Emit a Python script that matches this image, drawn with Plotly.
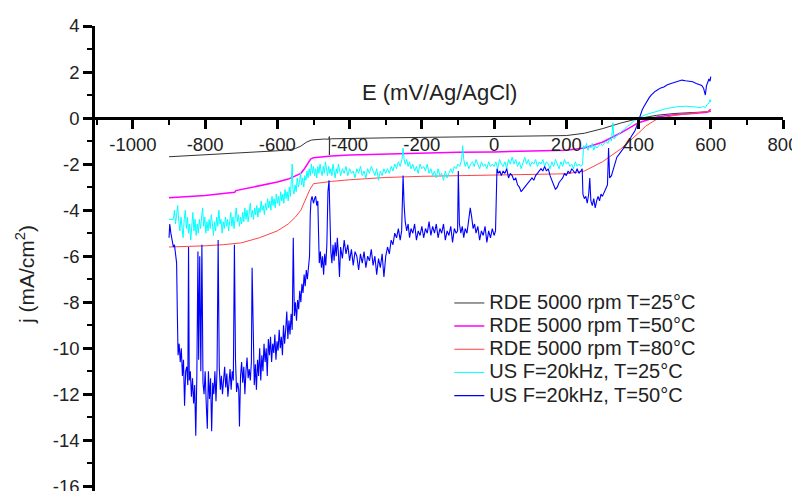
import plotly.graph_objects as go

# ---------------- data ----------------
rde25_E = [-900, -850, -800, -750, -700, -650, -600, -570, -550, -535, -520, -505, -490, -470,
           -458, -456, -456, -455, -452, -400, -300, -200, -100, 0, 100, 150, 200, 250, 300,
           350, 400, 450, 500, 550, 600]
rde25_j = [-1.68, -1.64, -1.6, -1.56, -1.52, -1.47, -1.42, -1.38, -1.32, -1.22, -1.05, -0.95, -0.92, -0.91,
           -0.92, -0.8, -1.6, -0.92, -0.9, -0.88, -0.86, -0.84, -0.82, -0.8, -0.79, -0.78, -0.76, -0.66, -0.46,
           -0.22, -0.02, 0.12, 0.2, 0.24, 0.28]

rde50_E = [-900, -850, -800, -750, -718, -715, -700, -650, -600, -570, -550, -535, -525, -515, -508,
           -500, -480, -450, -400, -300, -200, -100, 0, 100, 200, 250, 300, 350, 400, 450, 500,
           550, 590, 600]
rde50_j = [-3.46, -3.42, -3.36, -3.28, -3.22, -3.15, -3.1, -2.95, -2.78, -2.65, -2.52, -2.4, -2.2, -1.95, -1.78,
           -1.72, -1.68, -1.65, -1.6, -1.55, -1.5, -1.48, -1.47, -1.45, -1.4, -1.3, -1.05, -0.65, -0.2, 0.05, 0.15,
           0.2, 0.25, 0.38]

rde80_E = [-900, -850, -800, -750, -700, -650, -600, -570, -550, -535, -520, -510, -500, -480, -450,
           -400, -350, -300, -200, -100, 0, 100, 200, 250, 300, 350, 380, 400, 420, 450, 500, 550, 600]
rde80_j = [-5.6, -5.58, -5.55, -5.5, -5.42, -5.2, -4.9, -4.6, -4.3, -4.0, -3.5, -3.1, -2.85, -2.8, -2.75,
           -2.68, -2.62, -2.58, -2.53, -2.5, -2.47, -2.47, -2.42, -2.3, -1.9, -1.35, -0.95, -0.65, -0.35, -0.05,
           0.12, 0.2, 0.3]

us25_E = [
    -900, -888, -885, -882, -879, -876, -873, -870, -867, -864,
    -861, -858, -855, -852, -849, -846, -843, -840, -837, -834,
    -831, -828, -825, -822, -819, -816, -813, -810, -807, -804,
    -801, -798, -795, -792, -789, -786, -783, -780, -777, -774,
    -771, -768, -765, -762, -759, -756, -753, -750, -747, -744,
    -741, -738, -735, -732, -729, -726, -723, -720, -717, -714,
    -711, -708, -705, -702, -699, -696, -693, -690, -687, -684,
    -681, -678, -675, -672, -669, -666, -663, -660, -657, -654,
    -651, -648, -645, -642, -639, -636, -633, -630, -627, -624,
    -621, -618, -615, -612, -609, -606, -603, -600, -597, -594,
    -591, -588, -585, -582, -579, -576, -573, -570, -567, -564,
    -561, -559, -557, -554, -551, -548, -545, -542, -539, -536,
    -533, -530, -527, -524, -521, -518, -515, -512, -509, -506,
    -503, -500, -497, -494, -491, -488, -485, -482, -479, -476,
    -473, -470, -467, -464, -461, -458, -455, -452, -449, -446,
    -443, -440, -437, -434, -431, -428, -425, -420, -415, -410,
    -405, -400, -395, -390, -385, -380, -375, -370, -365, -360,
    -355, -350, -345, -340, -335, -330, -325, -320, -315, -310,
    -305, -300, -295, -290, -285, -280, -275, -270, -265, -260,
    -255, -252, -249, -246, -242, -238, -234, -230, -225, -220,
    -215, -210, -205, -200, -195, -190, -185, -180, -175, -170,
    -165, -160, -155, -150, -145, -140, -135, -130, -125, -120,
    -115, -110, -105, -100, -95, -90, -87, -84, -80, -75,
    -70, -65, -60, -55, -50, -45, -40, -35, -30, -25,
    -20, -15, -10, -5, 0, 5, 10, 15, 20, 25,
    30, 35, 40, 45, 50, 55, 60, 65, 70, 75,
    80, 85, 90, 95, 100, 105, 110, 115, 120, 125,
    130, 135, 140, 145, 150, 155, 160, 165, 170, 175,
    180, 185, 190, 195, 200, 205, 210, 215, 220, 225,
    230, 235, 240, 245, 248, 252, 256, 260, 264, 268,
    272, 276, 280, 285, 290, 295, 300, 305, 310, 315,
    320, 325, 329, 332, 336, 340, 345, 350, 355, 360,
    365, 370, 375, 380, 385, 390, 395, 400, 410, 420,
    430, 440, 450, 460, 470, 480, 490, 500, 510, 520,
    530, 540, 550, 560, 570, 580, 585, 590, 595, 598,
    600]
us25_j = [
    -4.4, -4.4, -4.0, -4.6, -4.2, -3.8, -4.5, -4.9, -4.3, -4.7,
    -5.2, -4.4, -4.0, -4.8, -4.3, -5.0, -4.6, -5.3, -4.5, -4.1,
    -4.9, -4.4, -5.1, -4.6, -5.0, -4.4, -4.8, -4.2, -3.9, -4.7,
    -4.3, -5.0, -4.5, -4.9, -4.4, -4.8, -4.2, -4.6, -5.1, -4.5,
    -4.9, -4.3, -4.7, -4.0, -4.6, -4.4, -5.0, -4.5, -4.8, -4.3,
    -4.7, -4.4, -4.9, -4.5, -4.1, -4.7, -4.3, -4.8, -4.4, -3.9,
    -4.5, -4.2, -4.7, -4.3, -4.6, -4.1, -4.5, -3.9, -4.4, -4.0,
    -4.5, -4.2, -3.7, -4.3, -4.0, -4.4, -3.9, -4.2, -3.8, -4.3,
    -3.9, -4.1, -3.6, -4.0, -3.8, -4.2, -3.7, -4.0, -3.5, -3.9,
    -3.6, -4.0, -3.4, -3.8, -3.5, -3.9, -3.3, -3.7, -3.4, -3.8,
    -3.2, -3.6, -3.3, -3.7, -3.1, -3.5, -3.2, -3.6, -3.0, -3.4,
    -2.5, -2.0, -3.1, -3.3, -2.9, -3.2, -2.6, -3.0, -2.8, -2.4,
    -2.9, -2.6, -3.0, -2.5, -2.7, -2.3, -2.6, -2.2, -2.5, -2.0,
    -2.4, -2.1, -2.5, -2.2, -2.6, -2.1, -2.4, -2.0, -2.3, -2.5,
    -2.1, -2.4, -1.9, -2.3, -2.5, -2.1, -2.4, -2.2, -2.5, -2.0,
    -2.3, -2.6, -2.2, -2.4, -2.0, -2.3, -2.5, -2.2, -2.4, -2.1,
    -2.5, -2.2, -2.4, -2.3, -2.6, -2.2, -2.4, -2.1, -2.5, -2.3,
    -2.6, -2.2, -2.4, -2.1, -2.3, -2.5, -2.2, -2.7, -2.3, -2.5,
    -2.2, -2.4, -2.2, -2.4, -2.1, -2.3, -2.0, -2.2, -1.9, -2.1,
    -1.8, -1.3, -1.8, -2.0, -1.8, -2.1, -1.9, -2.2, -2.0, -2.3,
    -2.1, -2.4, -2.0, -2.2, -2.1, -2.3, -2.0, -2.4, -2.2, -2.5,
    -2.3, -2.6, -2.2, -2.5, -2.4, -2.7, -2.3, -2.6, -2.4, -2.2,
    -2.4, -2.1, -2.2, -2.0, -2.1, -1.8, -1.2, -1.8, -2.1, -1.9,
    -2.2, -2.0, -1.9, -2.1, -1.8, -2.0, -2.2, -1.9, -2.1, -2.0,
    -2.2, -1.9, -2.1, -2.0, -2.1, -1.9, -2.2, -1.8, -2.0, -2.1,
    -1.9, -2.2, -1.8, -2.0, -1.7, -2.0, -1.8, -2.1, -1.9, -2.2,
    -1.9, -1.7, -2.0, -1.8, -2.1, -1.9, -2.0, -1.8, -2.1, -1.9,
    -2.0, -1.8, -2.1, -1.9, -2.0, -2.2, -1.9, -2.1, -1.8, -2.0,
    -2.2, -1.9, -2.1, -1.8, -2.0, -1.9, -2.1, -2.0, -2.2, -1.9,
    -2.1, -2.0, -2.1, -2.0, -1.2, -1.3, -1.1, -1.4, -1.2, -1.3,
    -1.1, -1.4, -1.2, -1.3, -1.2, -1.1, -1.2, -1.1, -1.0, -1.1,
    -0.9, -1.0, -0.2, -0.9, -0.8, -0.75, -0.7, -0.6, -0.55, -0.5,
    -0.4, -0.35, -0.3, -0.2, -0.15, -0.1, -0.05, 0.0, 0.08, 0.15,
    0.2, 0.26, 0.3, 0.35, 0.38, 0.42, 0.45, 0.48, 0.5, 0.5,
    0.52, 0.5, 0.5, 0.48, 0.45, 0.5, 0.45, 0.6, 0.65, 0.8,
    0.7]

us50_E = [
    -900, -898, -895, -892, -888, -885, -882, -879, -877, -875,
    -872, -869, -866, -863, -860, -857, -854, -851, -848, -846,
    -844, -841, -838, -835, -832, -829, -826, -823, -820, -818,
    -815, -812, -809, -806, -803, -800, -797, -794, -791, -788,
    -785, -782, -779, -776, -773, -770, -767, -764, -761, -758,
    -755, -752, -749, -746, -743, -740, -737, -734, -731, -728,
    -725, -722, -719, -716, -713, -710, -707, -705, -702, -699,
    -696, -693, -690, -687, -684, -681, -678, -675, -672, -670,
    -667, -664, -661, -658, -655, -652, -649, -646, -643, -640,
    -637, -634, -631, -628, -625, -622, -619, -616, -613, -610,
    -607, -604, -601, -598, -595, -592, -589, -586, -583, -580,
    -577, -574, -571, -568, -565, -562, -559, -556, -553, -550,
    -547, -544, -541, -538, -535, -532, -529, -526, -523, -520,
    -517, -514, -511, -509, -507, -504, -500, -497, -494, -491,
    -488, -486, -484, -481, -478, -475, -472, -469, -466, -463,
    -460, -457, -455, -452, -449, -446, -443, -440, -437, -434,
    -431, -428, -425, -420, -415, -410, -405, -400, -395, -390,
    -385, -380, -375, -370, -365, -360, -355, -350, -345, -340,
    -335, -330, -325, -320, -315, -310, -305, -300, -295, -290,
    -285, -280, -275, -270, -265, -260, -256, -252, -249, -246,
    -242, -238, -234, -230, -225, -220, -215, -210, -205, -200,
    -195, -190, -185, -180, -175, -170, -165, -160, -155, -150,
    -145, -140, -135, -130, -125, -120, -115, -110, -105, -101,
    -99, -96, -92, -88, -84, -80, -75, -70, -66, -62,
    -58, -54, -50, -45, -40, -35, -30, -25, -20, -15,
    -10, -5, 0, 4, 6, 8, 12, 16, 20, 25,
    30, 35, 40, 45, 50, 55, 60, 65, 70, 75,
    80, 85, 90, 95, 100, 105, 110, 115, 120, 125,
    130, 135, 140, 145, 150, 155, 160, 165, 170, 175,
    180, 185, 190, 195, 200, 205, 210, 215, 220, 225,
    230, 235, 240, 244, 246, 250, 254, 258, 262, 265,
    268, 272, 276, 280, 284, 288, 292, 296, 300, 305,
    310, 314, 317, 320, 325, 330, 335, 340, 345, 350,
    355, 360, 365, 370, 375, 380, 385, 390, 395, 400,
    405, 410, 415, 420, 425, 430, 435, 440, 445, 450,
    460, 470, 480, 490, 500, 510, 520, 530, 540, 550,
    560, 570, 575, 580, 585, 588, 592, 595, 598, 600]
us50_j = [
    -5.2, -4.6, -5.0, -5.3, -5.6, -5.5, -6.0, -6.3, -8.5, -10.3,
    -9.8, -10.6, -10.0, -11.2, -10.5, -12.5, -11.0, -10.8, -11.6, -5.6,
    -11.4, -11.0, -12.1, -11.3, -12.4, -11.6, -13.8, -11.2, -5.8, -10.5,
    -6.0, -11.0, -5.5, -11.5, -12.0, -11.0, -12.4, -13.5, -11.0, -12.2,
    -11.3, -13.6, -11.5, -12.0, -11.0, -12.3, -10.9, -5.3, -10.8, -11.8,
    -11.2, -12.0, -11.4, -10.8, -11.7, -11.1, -12.1, -11.5, -10.9, -11.8,
    -11.0, -11.4, -5.5, -10.5, -11.9, -11.5, -11.8, -13.4, -11.2, -10.6,
    -11.5, -10.8, -12.0, -11.0, -10.4, -11.3, -10.9, -11.4, -10.6, -6.5,
    -10.2, -11.6, -10.7, -11.8, -10.5, -11.2, -10.0, -11.4, -10.3, -11.0,
    -9.8, -10.6, -10.0, -11.2, -9.6, -10.3, -9.5, -10.6, -9.8, -10.2,
    -9.4, -10.5, -9.7, -10.1, -9.2, -10.0, -9.5, -10.3, -9.0, -9.8,
    -9.2, -8.4, -9.6, -8.8, -9.4, -8.5, -9.2, -5.2, -8.6, -8.0,
    -8.8, -7.9, -8.3, -7.5, -8.0, -7.2, -7.6, -6.8, -7.3, -6.6,
    -7.0, -6.4, -6.0, -4.2, -3.6, -3.4, -3.7, -3.5, -3.4, -3.8,
    -3.6, -5.0, -6.3, -5.8, -6.5, -6.0, -6.8, -5.9, -6.4, -5.5,
    -3.2, -2.7, -4.0, -5.8, -6.3, -5.5, -6.2, -5.4, -6.0, -5.2,
    -5.9, -6.9, -5.6, -6.1, -5.3, -5.9, -5.5, -6.2, -5.7, -6.4,
    -5.8, -6.0, -6.6, -5.9, -6.3, -5.8, -6.5, -6.0, -6.2, -5.7,
    -6.4, -6.0, -6.8, -6.1, -6.5, -5.9, -6.9, -6.0, -5.6, -5.9,
    -5.3, -5.5, -5.0, -5.2, -4.8, -5.3, -4.9, -2.5, -3.8, -4.5,
    -4.9, -4.6, -5.2, -4.8, -5.0, -4.6, -5.3, -4.9, -5.1, -4.7,
    -5.2, -4.8, -5.0, -4.5, -5.1, -4.7, -5.0, -4.6, -5.2, -4.8,
    -5.0, -4.6, -5.3, -4.9, -5.1, -4.7, -5.4, -4.8, -5.0, -4.9,
    -2.3, -4.6, -5.0, -4.7, -5.2, -4.8, -5.0, -4.5, -3.9, -4.3,
    -4.8, -4.6, -5.0, -4.7, -5.3, -4.9, -5.1, -4.7, -5.4, -4.9,
    -5.2, -4.8, -5.1, -4.9, -2.6, -2.2, -2.4, -2.3, -2.5, -2.3,
    -2.4, -2.2, -2.6, -2.4, -2.5, -2.7, -2.6, -2.9, -3.0, -3.2,
    -3.1, -3.0, -2.9, -2.8, -2.7, -2.6, -2.7, -2.5, -2.4, -2.3,
    -2.2, -2.3, -2.1, -2.3, -2.2, -2.5, -2.7, -2.9, -3.1, -3.0,
    -2.8, -2.7, -2.6, -2.4, -2.5, -2.3, -2.4, -2.2, -2.3, -2.4,
    -2.2, -2.4, -2.3, -2.2, -3.3, -3.5, -3.4, -3.7, -3.3, -2.6,
    -3.6, -3.8, -3.5, -3.9, -3.6, -3.4, -3.6, -3.3, -3.4, -3.2,
    -3.0, -2.9, -1.3, -2.6, -2.5, -2.2, -2.0, -1.7, -1.6, -1.5,
    -1.4, -1.3, -1.2, -1.1, -0.95, -0.8, -0.7, -0.55, -0.35, -0.1,
    0.15, 0.35, 0.5, 0.65, 0.8, 0.9, 1.0, 1.1, 1.15, 1.2,
    1.3, 1.35, 1.45, 1.5, 1.55, 1.6, 1.65, 1.62, 1.6, 1.58,
    1.5, 1.45, 1.42, 1.3, 1.0, 1.4, 1.55, 1.7, 1.6, 1.8]

series_names = ["RDE 5000 rpm T=25°C", "RDE 5000 rpm T=50°C", "RDE 5000 rpm T=80°C",
                "US F=20kHz, T=25°C", "US F=20kHz, T=50°C"]
series_colors = ["#333333", "#ff00ff", "#ff4444", "#00ffff", "#0000ff"]

x_tick_vals = [-1000, -800, -600, -400, -200, 0, 200, 400, 600, 800]
x_tick_text = ["-1000", "-800", "-600", "-400", "-200", "0", "200", "400", "600", "800"]
y_tick_vals = [4, 2, 0, -2, -4, -6, -8, -10, -12, -14, -16]
y_tick_text = ["4", "2", "0", "-2", "-4", "-6", "-8", "-10", "-12", "-14", "-16"]

x_title = "E (mV/Ag/AgCl)"
y_title = "j (mA/cm<sup>2</sup>)"

# ---------------- figure ----------------
FONT = "Liberation Sans, Arial, sans-serif"
fig = go.Figure()
data = [(rde25_E, rde25_j, 1), (rde50_E, rde50_j, 1.5), (rde80_E, rde80_j, 1),
        (us25_E, us25_j, 1), (us50_E, us50_j, 1.1)]
for (xs, ys, w), name, col in zip(data, series_names, series_colors):
    fig.add_trace(go.Scatter(
        x=xs, y=ys, mode="lines",
        name='<span style="font-size:20px">' + name + '</span>',
        line=dict(color=col, width=w)))

# the page body has an 8 px margin, so the figure is 8 px smaller each way
fig.update_layout(
    width=792, height=483,
    margin=dict(l=87, r=17, t=18, b=0, autoexpand=False),
    paper_bgcolor="white", plot_bgcolor="white",
    font=dict(family=FONT, size=18, color="#222222"),
    showlegend=True,
    legend=dict(x=0.515, y=0.44, xanchor="left", yanchor="top",
                bgcolor="rgba(0,0,0,0)", font=dict(size=15.5, color="#222222"),
                tracegroupgap=0, itemwidth=30),
    xaxis=dict(range=[-1105, 800], anchor="free", position=16.2 / 20.2,
               showline=True, linecolor="black", linewidth=2.5,
               showgrid=False, zeroline=False,
               tickmode="array", tickvals=x_tick_vals, ticktext=x_tick_text,
               ticks="outside", ticklen=9, tickwidth=2.5, tickcolor="black",
               minor=dict(tickmode="linear", tick0=0, dtick=100, ticks="outside",
                          ticklen=5, tickwidth=2, tickcolor="black", showgrid=False),
               tickfont=dict(size=18.5)),
    yaxis=dict(range=[-16.2, 4],
               showline=True, linecolor="black", linewidth=2.5,
               showgrid=False, zeroline=False, ticklabeloverflow="allow",
               tickmode="array", tickvals=y_tick_vals, ticktext=y_tick_text,
               ticks="outside", ticklen=9, tickwidth=2.5, tickcolor="black",
               minor=dict(tickmode="linear", tick0=0, dtick=1, ticks="outside",
                          ticklen=5, tickwidth=2, tickcolor="black", showgrid=False),
               tickfont=dict(size=18.5)),
    annotations=[
        dict(text=x_title, xref="paper", yref="paper", x=0.501, y=0.856,
             xanchor="center", yanchor="middle", showarrow=False,
             font=dict(size=22, color="#222222")),
        dict(text=y_title, xref="paper", yref="paper", x=-0.1017, y=0.4645,
             xanchor="center", yanchor="middle", showarrow=False, textangle=-90,
             font=dict(size=21, color="#222222")),
    ],
)

fig.write_html("out.html")
